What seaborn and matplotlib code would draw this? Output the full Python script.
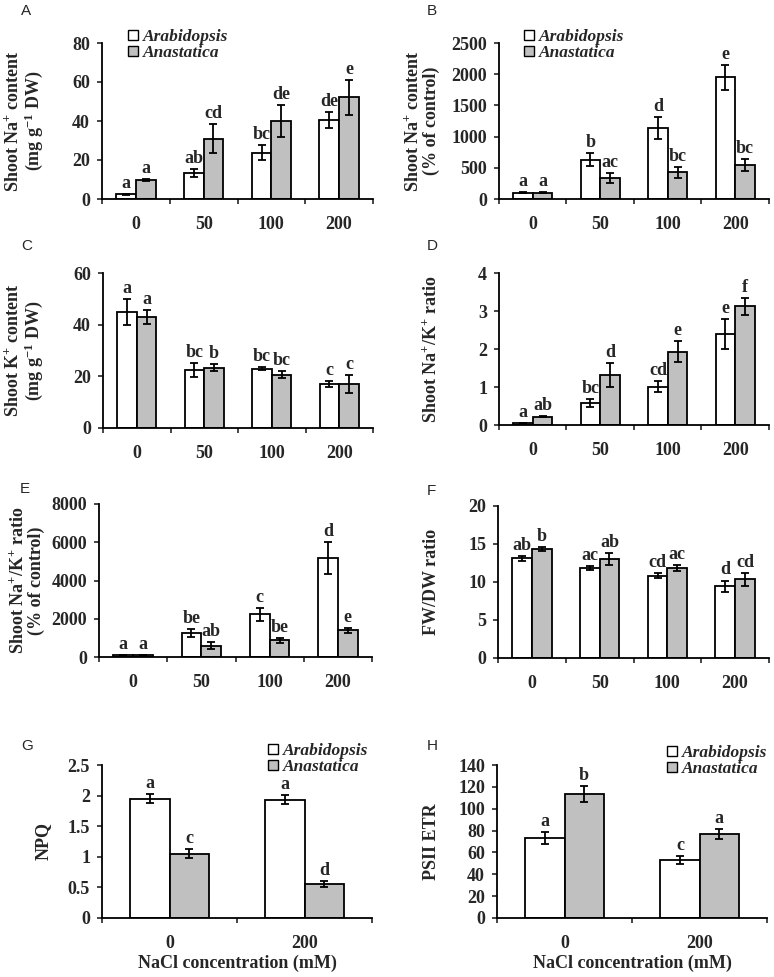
import numpy as np
import pandas as pd
import matplotlib
matplotlib.use('Agg')
import matplotlib.pyplot as plt
import seaborn as sns
from matplotlib.font_manager import FontProperties
from matplotlib.container import BarContainer

sns.set_theme(style='ticks')
plt.rcParams['font.family'] = ['Liberation Serif', 'DejaVu Serif']
plt.rcParams['font.weight'] = 'bold'
plt.rcParams['mathtext.fontset'] = 'custom'
plt.rcParams['mathtext.rm'] = 'Liberation Serif:bold'
plt.rcParams['mathtext.it'] = 'Liberation Serif:italic:bold'
plt.rcParams['mathtext.bf'] = 'Liberation Serif:bold'

species = ['Arabidopsis', 'Anastatica']
nacl_4 = ['0', '50', '100', '200']
nacl_2 = ['0', '200']

# A: Shoot Na+ content (mg g-1 DW)
a_arab = [2.4, 13.2, 23.8, 40.6]
a_ana = [9.8, 31.0, 40.1, 52.2]
a_arab_err = [0.3, 2.1, 3.7, 4.1]
a_ana_err = [0.5, 7.3, 8.2, 9.0]
a_arab_let = ['a', 'ab', 'bc', 'de']
a_ana_let = ['a', 'cd', 'de', 'e']
a_yticks = [0, 20, 40, 60, 80]

# B: Shoot Na+ content (% of control)
b_arab = [100, 630, 1135, 1948]
b_ana = [100, 330, 425, 550]
b_arab_err = [10, 105, 180, 200]
b_ana_err = [8, 80, 90, 95]
b_arab_let = ['a', 'b', 'd', 'e']
b_ana_let = ['a', 'ac', 'bc', 'bc']
b_yticks = [0, 500, 1000, 1500, 2000, 2500]

# C: Shoot K+ content
c_arab = [44.8, 22.4, 22.9, 17.0]
c_ana = [43.0, 23.4, 20.7, 17.0]
c_arab_err = [5.0, 2.6, 0.6, 1.1]
c_ana_err = [2.7, 1.4, 1.4, 3.5]
c_arab_let = ['a', 'bc', 'bc', 'c']
c_ana_let = ['a', 'b', 'bc', 'c']
c_yticks = [0, 20, 40, 60]

# D: Shoot Na+/K+ ratio
d_arab = [0.05, 0.585, 1.01, 2.40]
d_ana = [0.22, 1.32, 1.93, 3.12]
d_arab_err = [0.01, 0.11, 0.15, 0.39]
d_ana_err = [0.02, 0.32, 0.27, 0.23]
d_arab_let = ['a', 'bc', 'cd', 'e']
d_ana_let = ['ab', 'd', 'e', 'f']
d_yticks = [0, 1, 2, 3, 4]

# E: Shoot Na+/K+ ratio (% of control)
e_arab = [100, 1254, 2230, 5157]
e_ana = [100, 592, 871, 1394]
e_arab_err = [10, 230, 330, 830]
e_ana_err = [8, 175, 130, 115]
e_arab_let = ['a', 'be', 'c', 'd']
e_ana_let = ['a', 'ab', 'be', 'e']
e_yticks = [0, 2000, 4000, 6000, 8000]

# F: FW/DW ratio
f_arab = [13.13, 11.86, 10.85, 9.45]
f_ana = [14.31, 13.04, 11.86, 10.33]
f_arab_err = [0.33, 0.24, 0.37, 0.74]
f_ana_err = [0.28, 0.77, 0.39, 0.83]
f_arab_let = ['ab', 'ac', 'cd', 'd']
f_ana_let = ['b', 'ab', 'ac', 'cd']
f_yticks = [0, 5, 10, 15, 20]

# G: NPQ
g_arab = [1.95, 1.935]
g_ana = [1.05, 0.554]
g_arab_err = [0.07, 0.075]
g_ana_err = [0.07, 0.05]
g_arab_let = ['a', 'a']
g_ana_let = ['c', 'd']
g_yticks = [0, 0.5, 1, 1.5, 2, 2.5]
g_yticklabels = ['0', '0.5', '1', '1.5', '2', '2.5']

# H: PSII ETR
h_arab = [73.3, 53.0]
h_ana = [113.2, 76.7]
h_arab_err = [5.2, 3.7]
h_ana_err = [7.3, 4.5]
h_arab_let = ['a', 'c']
h_ana_let = ['b', 'a']
h_yticks = [0, 20, 40, 60, 80, 100, 120, 140]

W, H = 774, 977
fig = plt.figure(figsize=(W / 100, H / 100), dpi=100)

FS = 13
palette = {'Arabidopsis': 'white', 'Anastatica': '#c0c0c0'}
leg_font = FontProperties(family=['Liberation Serif', 'DejaVu Serif'],
                          style='italic', weight='bold', size=12.5)


def fig_ax(l, t, r, b):
    return fig.add_axes([l / W, 1 - b / H, (r - l) / W, (b - t) / H])


def panel(box, cats, arab, ana, arab_err, ana_err, arab_let, ana_let, yticks,
          ylabel, label, label_pos, ylab_px, yticklabels=None, legend_pos=None,
          xlabel=None):
    l, t, r, b = box
    ax = fig_ax(l, t, r, b)
    df = pd.DataFrame({
        'NaCl': cats * 2,
        'Species': [species[0]] * len(cats) + [species[1]] * len(cats),
        'value': list(arab) + list(ana),
    })
    sns.barplot(data=df, x='NaCl', y='value', hue='Species', order=cats,
                hue_order=species, palette=palette, edgecolor='black',
                linewidth=1.3, width=0.58, errorbar=None, ax=ax,
                legend=legend_pos is not None)
    errs = [arab_err, ana_err]
    lets = [arab_let, ana_let]
    bar_conts = [c for c in ax.containers if isinstance(c, BarContainer)]
    for k, cont in enumerate(bar_conts):
        for i, p in enumerate(cont.patches):
            x = p.get_x() + p.get_width() / 2
            y = p.get_height()
            ax.errorbar(x, y, yerr=errs[k][i], fmt='none', ecolor='black',
                        elinewidth=1.3, capsize=3.2, capthick=1.3)
            ax.annotate(lets[k][i], (x, y + errs[k][i]), xytext=(0, 1.5),
                        textcoords='offset points', ha='center', va='bottom',
                        fontsize=FS, fontweight='bold')
    n = len(cats)
    ax.set_xlim(-0.5, n - 0.5)
    ax.set_ylim(yticks[0], yticks[-1])
    ax.set_yticks(yticks)
    if yticklabels is not None:
        ax.set_yticklabels(yticklabels)
    ax.set_xticks(np.arange(-0.5, n, 1.0))
    ax.set_xticklabels([''] * (n + 1))
    ax.set_xticks(np.arange(n), minor=True)
    ax.set_xticklabels(cats, minor=True)
    ax.tick_params(axis='x', which='major', length=3.6, width=1.2, direction='out')
    ax.tick_params(axis='x', which='minor', length=0, pad=12, labelsize=FS)
    ax.tick_params(axis='y', length=3.6, width=1.2, direction='out', pad=5,
                   labelsize=FS)
    for tl in ax.get_xticklabels(minor=True) + ax.get_yticklabels():
        tl.set_fontweight('bold')
    sns.despine(ax=ax)
    for s in ['left', 'bottom']:
        ax.spines[s].set_linewidth(1.3)
        ax.spines[s].set_color('black')
    ax.set_ylabel(ylabel, fontsize=FS, fontweight='bold', linespacing=1.05)
    ax.yaxis.set_label_coords((ylab_px - l) / (r - l), 0.5)
    if xlabel:
        ax.set_xlabel(xlabel, fontsize=FS, fontweight='bold', labelpad=2)
    else:
        ax.set_xlabel('')
    ax.set_facecolor('none')
    if legend_pos is not None:
        handles, labels = ax.get_legend_handles_labels()
        for hd in handles:
            hd.set_edgecolor('black')
            hd.set_linewidth(1.0)
        ax.legend(handles, labels, loc='upper left',
                  bbox_to_anchor=(legend_pos[0] / W, 1 - legend_pos[1] / H),
                  bbox_transform=fig.transFigure, frameon=False,
                  handlelength=0.57, handleheight=0.57, handletextpad=0.3,
                  labelspacing=0.0, borderpad=0, borderaxespad=0,
                  prop=leg_font)
    fig.text(label_pos[0] / W, 1 - label_pos[1] / H, label, ha='left', va='top',
             fontsize=11, fontweight='normal', family='Liberation Sans')
    return ax


panel((102, 43, 373, 199), nacl_4, a_arab, a_ana, a_arab_err, a_ana_err,
      a_arab_let, a_ana_let, a_yticks,
      'Shoot Na$^{+}$ content\n(mg g$^{-1}$ DW)', 'A', (21, 4), 45,
      legend_pos=(128, 29))
panel((499, 43, 769, 199), nacl_4, b_arab, b_ana, b_arab_err, b_ana_err,
      b_arab_let, b_ana_let, b_yticks,
      'Shoot Na$^{+}$ content\n(% of control)', 'B', (427, 4), 440,
      legend_pos=(524, 29))
panel((103, 273, 373, 428), nacl_4, c_arab, c_ana, c_arab_err, c_ana_err,
      c_arab_let, c_ana_let, c_yticks,
      'Shoot K$^{+}$ content\n(mg g$^{-1}$ DW)', 'C', (21, 239), 45)
panel((499, 273, 769, 425), nacl_4, d_arab, d_ana, d_arab_err, d_ana_err,
      d_arab_let, d_ana_let, d_yticks,
      'Shoot Na$^{+}$/K$^{+}$ ratio', 'D', (427, 239), 440)
panel((99, 504, 372, 657), nacl_4, e_arab, e_ana, e_arab_err, e_ana_err,
      e_arab_let, e_ana_let, e_yticks,
      'Shoot Na$^{+}$/K$^{+}$ ratio\n(% of control)', 'E', (20, 482), 45)
panel((498, 506, 769, 658), nacl_4, f_arab, f_ana, f_arab_err, f_ana_err,
      f_arab_let, f_ana_let, f_yticks,
      'FW/DW ratio', 'F', (427, 484), 440)
panel((102, 765, 372, 918), nacl_2, g_arab, g_ana, g_arab_err, g_ana_err,
      g_arab_let, g_ana_let, g_yticks,
      'NPQ', 'G', (21, 739), 52, yticklabels=g_yticklabels,
      legend_pos=(268, 743), xlabel='NaCl concentration (mM)')
panel((497, 765, 767, 918), nacl_2, h_arab, h_ana, h_arab_err, h_ana_err,
      h_arab_let, h_ana_let, h_yticks,
      'PSII ETR', 'H', (427, 739), 440,
      legend_pos=(667, 745), xlabel='NaCl concentration (mM)')

fig.savefig('out.png', dpi=100, facecolor='white')
